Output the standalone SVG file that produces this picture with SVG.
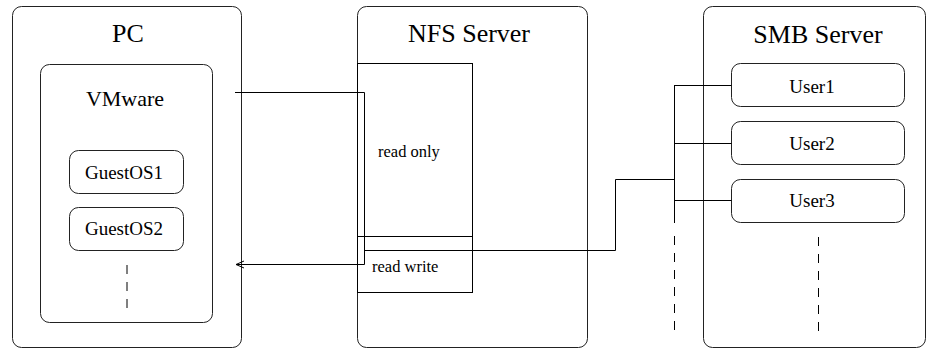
<svg xmlns="http://www.w3.org/2000/svg" width="927" height="352" viewBox="0 0 927 352">
<defs>
<style>
.box{fill:#fff;stroke:#222;stroke-width:1}
.sq{fill:none;stroke:#000;stroke-width:1}
.ln{fill:none;stroke:#000;stroke-width:1}
.dash{fill:none;stroke:#000;stroke-width:1;stroke-dasharray:9 8}
.t{font-family:'Liberation Serif','Times New Roman',serif;fill:#000}
.title{font-size:26px;text-anchor:middle}
.sub{font-size:22px;text-anchor:middle}
.lab{font-size:19px;text-anchor:middle}
.small{font-size:16.5px}
</style>
<marker id="arr" markerWidth="10" markerHeight="10" refX="8" refY="4" orient="auto" markerUnits="userSpaceOnUse">
<path d="M0,0.5 L8,4 L0,7.5" fill="none" stroke="#000" stroke-width="1"/>
</marker>
</defs>
<rect x="0" y="0" width="927" height="352" fill="#fff"/>
<g id="pc">
<rect class="box" x="12.5" y="6.5" width="229" height="341" rx="9"/>
<text class="t title" x="128" y="42">PC</text>
</g>
<g id="vmware">
<rect class="box" x="40.5" y="64.5" width="172" height="258" rx="9"/>
<text class="t sub" x="125" y="106">VMware</text>
<line class="dash" x1="127" y1="265" x2="127" y2="308"/>
</g>
<g id="guestos1">
<rect class="box" x="69.5" y="150.5" width="114" height="43" rx="9"/>
<text class="t lab" x="124" y="179">GuestOS1</text>
</g>
<g id="guestos2">
<rect class="box" x="69.5" y="207.5" width="114" height="43" rx="9"/>
<text class="t lab" x="124" y="235">GuestOS2</text>
</g>
<g id="nfs">
<rect class="box" x="357.5" y="6.5" width="230" height="341" rx="9"/>
<text class="t title" x="469" y="42">NFS Server</text>
</g>
<g id="readonly">
<rect class="sq" x="357.5" y="63.5" width="115" height="173"/>
<text class="t small" x="378" y="157">read only</text>
</g>
<g id="readwrite">
<rect class="sq" x="357.5" y="236.5" width="115" height="56"/>
<text class="t small" x="372" y="272">read write</text>
</g>
<g id="smb">
<rect class="box" x="703.5" y="6.5" width="222" height="341" rx="9"/>
<text class="t title" x="818" y="43">SMB Server</text>
<line class="dash" x1="818.5" y1="237" x2="818.5" y2="332"/>
</g>
<g id="user1">
<rect class="box" x="731.5" y="63.5" width="173" height="43" rx="9"/>
<text class="t lab" x="812" y="93">User1</text>
</g>
<g id="user2">
<rect class="box" x="731.5" y="121.5" width="173" height="43" rx="9"/>
<text class="t lab" x="812" y="150">User2</text>
</g>
<g id="user3">
<rect class="box" x="731.5" y="179.5" width="173" height="43" rx="9"/>
<text class="t lab" x="812" y="207">User3</text>
</g>
<g id="connectors">
<polyline class="ln" points="235,92.5 364.5,92.5 364.5,264.5 236,264.5" marker-end="url(#arr)"/>
<polyline class="ln" points="364.5,250.5 615.5,250.5 615.5,179.5 674.5,179.5"/>
<line class="ln" x1="674.5" y1="85" x2="674.5" y2="223"/>
<line class="dash" x1="674.5" y1="236" x2="674.5" y2="332"/>
<line class="ln" x1="674.5" y1="85.5" x2="731.5" y2="85.5"/>
<line class="ln" x1="674.5" y1="143.5" x2="731.5" y2="143.5"/>
<line class="ln" x1="674.5" y1="200.5" x2="731.5" y2="200.5"/>
</g>
</svg>
